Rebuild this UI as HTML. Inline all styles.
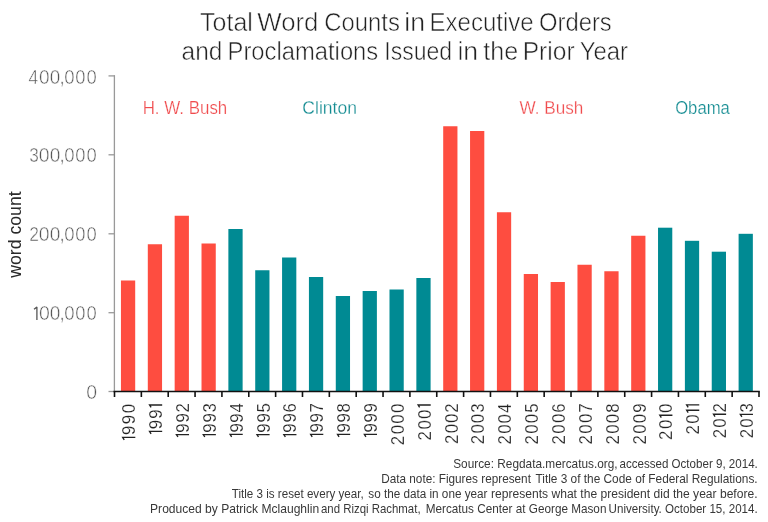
<!DOCTYPE html>
<html><head><meta charset="utf-8"><style>
html,body{margin:0;padding:0;background:#fff;width:768px;height:522px;overflow:hidden;}
svg{position:absolute;left:0;top:0;}
text{font-family:"Liberation Sans",sans-serif;white-space:pre;}
svg{will-change:transform} .ti{stroke:#fff;stroke-width:0.55px;} .yl{stroke:#fff;stroke-width:0.5px;} .yr{stroke:#fff;stroke-width:0.2px;} .pr{stroke:#fff;stroke-width:0.25px;}
</style></head><body>
<svg width="768" height="522" viewBox="0 0 768 522">
<line x1="114.4" y1="75.30000000000001" x2="114.4" y2="391" stroke="#999" stroke-width="1.3"/>
<line x1="108.5" y1="75.9" x2="114.9" y2="75.9" stroke="#999" stroke-width="1.3"/><line x1="108.5" y1="154.8" x2="114.9" y2="154.8" stroke="#999" stroke-width="1.3"/><line x1="108.5" y1="233.8" x2="114.9" y2="233.8" stroke="#999" stroke-width="1.3"/><line x1="108.5" y1="312.7" x2="114.9" y2="312.7" stroke="#999" stroke-width="1.3"/><line x1="108.5" y1="391.5" x2="114.9" y2="391.5" stroke="#999" stroke-width="1.3"/>
<rect x="120.95" y="280.5" width="14.25" height="110.50" fill="#fe4d40"/><rect x="147.80" y="244.25" width="14.25" height="146.75" fill="#fe4d40"/><rect x="174.66" y="215.75" width="14.25" height="175.25" fill="#fe4d40"/><rect x="201.51" y="243.5" width="14.25" height="147.50" fill="#fe4d40"/><rect x="228.37" y="229" width="14.25" height="162.00" fill="#008a93"/><rect x="255.22" y="270.25" width="14.25" height="120.75" fill="#008a93"/><rect x="282.07" y="257.5" width="14.25" height="133.50" fill="#008a93"/><rect x="308.93" y="277" width="14.25" height="114.00" fill="#008a93"/><rect x="335.78" y="296" width="14.25" height="95.00" fill="#008a93"/><rect x="362.64" y="291" width="14.25" height="100.00" fill="#008a93"/><rect x="389.49" y="289.5" width="14.25" height="101.50" fill="#008a93"/><rect x="416.35" y="278" width="14.25" height="113.00" fill="#008a93"/><rect x="443.20" y="126.25" width="14.25" height="264.75" fill="#fe4d40"/><rect x="470.05" y="131" width="14.25" height="260.00" fill="#fe4d40"/><rect x="496.91" y="212.25" width="14.25" height="178.75" fill="#fe4d40"/><rect x="523.76" y="274" width="14.25" height="117.00" fill="#fe4d40"/><rect x="550.62" y="282" width="14.25" height="109.00" fill="#fe4d40"/><rect x="577.47" y="264.75" width="14.25" height="126.25" fill="#fe4d40"/><rect x="604.33" y="271.25" width="14.25" height="119.75" fill="#fe4d40"/><rect x="631.18" y="235.75" width="14.25" height="155.25" fill="#fe4d40"/><rect x="658.03" y="227.7" width="14.25" height="163.30" fill="#008a93"/><rect x="684.89" y="240.8" width="14.25" height="150.20" fill="#008a93"/><rect x="711.74" y="251.7" width="14.25" height="139.30" fill="#008a93"/><rect x="738.60" y="233.8" width="14.25" height="157.20" fill="#008a93"/>
<line x1="113.5" y1="391.5" x2="759.80" y2="391.5" stroke="#111" stroke-width="1.7"/>
<line x1="114.50" y1="391.5" x2="114.50" y2="397" stroke="#111" stroke-width="1.6"/><line x1="141.35" y1="391.5" x2="141.35" y2="397" stroke="#111" stroke-width="1.6"/><line x1="168.21" y1="391.5" x2="168.21" y2="397" stroke="#111" stroke-width="1.6"/><line x1="195.06" y1="391.5" x2="195.06" y2="397" stroke="#111" stroke-width="1.6"/><line x1="221.92" y1="391.5" x2="221.92" y2="397" stroke="#111" stroke-width="1.6"/><line x1="248.77" y1="391.5" x2="248.77" y2="397" stroke="#111" stroke-width="1.6"/><line x1="275.62" y1="391.5" x2="275.62" y2="397" stroke="#111" stroke-width="1.6"/><line x1="302.48" y1="391.5" x2="302.48" y2="397" stroke="#111" stroke-width="1.6"/><line x1="329.33" y1="391.5" x2="329.33" y2="397" stroke="#111" stroke-width="1.6"/><line x1="356.19" y1="391.5" x2="356.19" y2="397" stroke="#111" stroke-width="1.6"/><line x1="383.04" y1="391.5" x2="383.04" y2="397" stroke="#111" stroke-width="1.6"/><line x1="409.90" y1="391.5" x2="409.90" y2="397" stroke="#111" stroke-width="1.6"/><line x1="436.75" y1="391.5" x2="436.75" y2="397" stroke="#111" stroke-width="1.6"/><line x1="463.60" y1="391.5" x2="463.60" y2="397" stroke="#111" stroke-width="1.6"/><line x1="490.46" y1="391.5" x2="490.46" y2="397" stroke="#111" stroke-width="1.6"/><line x1="517.31" y1="391.5" x2="517.31" y2="397" stroke="#111" stroke-width="1.6"/><line x1="544.17" y1="391.5" x2="544.17" y2="397" stroke="#111" stroke-width="1.6"/><line x1="571.02" y1="391.5" x2="571.02" y2="397" stroke="#111" stroke-width="1.6"/><line x1="597.88" y1="391.5" x2="597.88" y2="397" stroke="#111" stroke-width="1.6"/><line x1="624.73" y1="391.5" x2="624.73" y2="397" stroke="#111" stroke-width="1.6"/><line x1="651.58" y1="391.5" x2="651.58" y2="397" stroke="#111" stroke-width="1.6"/><line x1="678.44" y1="391.5" x2="678.44" y2="397" stroke="#111" stroke-width="1.6"/><line x1="705.29" y1="391.5" x2="705.29" y2="397" stroke="#111" stroke-width="1.6"/><line x1="732.15" y1="391.5" x2="732.15" y2="397" stroke="#111" stroke-width="1.6"/><line x1="759.00" y1="391.5" x2="759.00" y2="397" stroke="#111" stroke-width="1.6"/>
<text class="ti" transform="translate(200.118,30.600) scale(0.9638,1)" font-size="25.9" fill="#222">Total</text>
<text class="ti" transform="translate(257.251,30.600) scale(0.9966,1)" font-size="25.9" fill="#222">Word</text>
<text class="ti" transform="translate(324.248,30.600) scale(0.9216,1)" font-size="25.9" fill="#222">Counts</text>
<text class="ti" transform="translate(404.193,30.600) scale(1.0328,1)" font-size="25.9" fill="#222">in</text>
<text class="ti" transform="translate(429.544,30.600) scale(0.9281,1)" font-size="25.9" fill="#222">Executive</text>
<text class="ti" transform="translate(538.949,30.600) scale(0.9208,1)" font-size="25.9" fill="#222">Orders</text>
<text class="ti" transform="translate(181.554,60.000) scale(0.9457,1)" font-size="25.9" fill="#222">and</text>
<text class="ti" transform="translate(227.563,60.000) scale(0.9184,1)" font-size="25.9" fill="#222">Proclamations</text>
<text class="ti" transform="translate(384.304,60.000) scale(0.8872,1)" font-size="25.9" fill="#222">Issued</text>
<text class="ti" transform="translate(457.393,60.000) scale(1.0328,1)" font-size="25.9" fill="#222">in</text>
<text class="ti" transform="translate(483.258,60.000) scale(0.9681,1)" font-size="25.9" fill="#222">the</text>
<text class="ti" transform="translate(522.701,60.000) scale(0.9493,1)" font-size="25.9" fill="#222">Prior</text>
<text class="ti" transform="translate(579.706,60.000) scale(0.9249,1)" font-size="25.9" fill="#222">Year</text>
<text class="pr" transform="translate(142.647,113.700) scale(0.9022,1)" font-size="18.76" fill="#f04c4e">H. W. Bush</text>
<text class="pr" transform="translate(302.365,113.600) scale(0.9351,1)" font-size="18.76" fill="#128b91">Clinton</text>
<text class="pr" transform="translate(519.471,113.600) scale(0.9143,1)" font-size="18.76" fill="#f04c4e">W. Bush</text>
<text class="pr" transform="translate(675.132,113.600) scale(0.8905,1)" font-size="18.76" fill="#128b91">Obama</text>
<text class="ft" transform="translate(453.210,468.250) scale(0.9199,1)" font-size="12.87" fill="#383838">Source: Regdata.mercatus.org,</text>
<text class="ft" transform="translate(619.450,468.250) scale(0.9003,1)" font-size="12.87" fill="#383838">accessed October 9, 2014.</text>
<text class="ft" transform="translate(381.186,482.900) scale(0.9143,1)" font-size="12.87" fill="#383838">Data note: Figures represent</text>
<text class="ft" transform="translate(535.469,482.900) scale(0.9220,1)" font-size="12.87" fill="#383838">Title 3 of the Code of Federal Regulations.</text>
<text class="ft" transform="translate(231.774,497.800) scale(0.9043,1)" font-size="12.87" fill="#383838">Title 3 is reset every year,</text>
<text class="ft" transform="translate(368.295,497.800) scale(0.9109,1)" font-size="12.87" fill="#383838">so the data in one year</text>
<text class="ft" transform="translate(491.045,497.800) scale(0.9397,1)" font-size="12.87" fill="#383838">represents what the president did the year before.</text>
<text class="ft" transform="translate(150.061,512.700) scale(0.9391,1)" font-size="12.87" fill="#383838">Produced by Patrick Mclaughlin</text>
<text class="ft" transform="translate(320.956,512.700) scale(0.8878,1)" font-size="12.87" fill="#383838">and Rizqi Rachmat,</text>
<text class="ft" transform="translate(425.687,512.700) scale(0.9129,1)" font-size="12.87" fill="#383838">Mercatus Center at George Mason</text>
<text class="ft" transform="translate(608.599,512.700) scale(0.9006,1)" font-size="12.87" fill="#383838">University. October 15, 2014.</text>
<text class="yl" transform="translate(28.449,83.500) scale(0.9026,1)" font-size="19.36" fill="#555">4</text>
<text class="yl" transform="translate(39.062,83.500) scale(0.9838,1)" font-size="19.36" fill="#555">0</text>
<text class="yl" transform="translate(49.670,83.500) scale(0.9730,1)" font-size="19.36" fill="#555">0</text>
<text class="yl" transform="translate(59.363,83.500) scale(1.0500,1)" font-size="19.36" fill="#555">,</text>
<text class="yl" transform="translate(64.278,83.500) scale(0.9622,1)" font-size="19.36" fill="#555">0</text>
<text class="yl" transform="translate(75.286,83.500) scale(0.9514,1)" font-size="19.36" fill="#555">0</text>
<text class="yl" transform="translate(86.486,83.500) scale(0.9514,1)" font-size="19.36" fill="#555">0</text>
<text class="yl" transform="translate(29.135,162.300) scale(0.8865,1)" font-size="19.36" fill="#555">3</text>
<text class="yl" transform="translate(38.846,162.300) scale(1.0054,1)" font-size="19.36" fill="#555">0</text>
<text class="yl" transform="translate(49.762,162.300) scale(0.9838,1)" font-size="19.36" fill="#555">0</text>
<text class="yl" transform="translate(59.363,162.300) scale(1.0500,1)" font-size="19.36" fill="#555">,</text>
<text class="yl" transform="translate(64.278,162.300) scale(0.9622,1)" font-size="19.36" fill="#555">0</text>
<text class="yl" transform="translate(75.286,162.300) scale(0.9514,1)" font-size="19.36" fill="#555">0</text>
<text class="yl" transform="translate(86.486,162.300) scale(0.9514,1)" font-size="19.36" fill="#555">0</text>
<text class="yl" transform="translate(29.197,241.000) scale(0.9029,1)" font-size="19.36" fill="#555">2</text>
<text class="yl" transform="translate(38.846,241.000) scale(1.0054,1)" font-size="19.36" fill="#555">0</text>
<text class="yl" transform="translate(49.762,241.000) scale(0.9838,1)" font-size="19.36" fill="#555">0</text>
<text class="yl" transform="translate(59.363,241.000) scale(1.0500,1)" font-size="19.36" fill="#555">,</text>
<text class="yl" transform="translate(64.278,241.000) scale(0.9622,1)" font-size="19.36" fill="#555">0</text>
<text class="yl" transform="translate(75.286,241.000) scale(0.9514,1)" font-size="19.36" fill="#555">0</text>
<text class="yl" transform="translate(86.486,241.000) scale(0.9514,1)" font-size="19.36" fill="#555">0</text>
<text class="yl" transform="translate(38.946,319.900) scale(1.0054,1)" font-size="19.36" fill="#555">0</text>
<text class="yl" transform="translate(49.762,319.900) scale(0.9838,1)" font-size="19.36" fill="#555">0</text>
<text class="yl" transform="translate(59.363,319.900) scale(1.0500,1)" font-size="19.36" fill="#555">,</text>
<text class="yl" transform="translate(64.278,319.900) scale(0.9622,1)" font-size="19.36" fill="#555">0</text>
<text class="yl" transform="translate(75.286,319.900) scale(0.9514,1)" font-size="19.36" fill="#555">0</text>
<text class="yl" transform="translate(86.486,319.900) scale(0.9514,1)" font-size="19.36" fill="#555">0</text>
<text class="yl" transform="translate(86.146,398.800) scale(1.0054,1)" font-size="19.36" fill="#555">0</text>
<text class="wc" transform="translate(21.200,277.800) rotate(-90) scale(0.9458,1)" font-size="18.7" fill="#2a2a2a">word count</text>
<g transform="translate(135.327,440.000) rotate(-90)"><path d="M2.60,0 V-12.60 L0.20,-11.10" fill="none" stroke="#222" stroke-width="1.35" stroke-linejoin="miter"/><text class="yr" transform="translate(4.889,0) scale(0.88,1)" font-size="19.08" fill="#222">9</text><text class="yr" transform="translate(15.782,0) scale(0.88,1)" font-size="19.08" fill="#222">9</text><text class="yr" transform="translate(26.675,0) scale(0.88,1)" font-size="19.08" fill="#222">0</text></g>
<g transform="translate(162.181,434.000) rotate(-90)"><path d="M2.60,0 V-12.60 L0.20,-11.10" fill="none" stroke="#222" stroke-width="1.35" stroke-linejoin="miter"/><text class="yr" transform="translate(4.704,0) scale(0.88,1)" font-size="19.08" fill="#222">9</text><text class="yr" transform="translate(15.233,0) scale(0.88,1)" font-size="19.08" fill="#222">9</text><path d="M29.02,0 V-12.60 L26.62,-11.10" fill="none" stroke="#222" stroke-width="1.35" stroke-linejoin="miter"/></g>
<g transform="translate(189.035,437.200) rotate(-90)"><path d="M2.60,0 V-12.60 L0.20,-11.10" fill="none" stroke="#222" stroke-width="1.35" stroke-linejoin="miter"/><text class="yr" transform="translate(4.520,0) scale(0.88,1)" font-size="19.08" fill="#222">9</text><text class="yr" transform="translate(14.687,0) scale(0.88,1)" font-size="19.08" fill="#222">9</text><text class="yr" transform="translate(24.634,0) scale(0.88,1)" font-size="19.08" fill="#222">2</text></g>
<g transform="translate(215.890,437.200) rotate(-90)"><path d="M2.60,0 V-12.60 L0.20,-11.10" fill="none" stroke="#222" stroke-width="1.35" stroke-linejoin="miter"/><text class="yr" transform="translate(4.487,0) scale(0.88,1)" font-size="19.08" fill="#222">9</text><text class="yr" transform="translate(14.589,0) scale(0.88,1)" font-size="19.08" fill="#222">9</text><text class="yr" transform="translate(24.692,0) scale(0.88,1)" font-size="19.08" fill="#222">3</text></g>
<g transform="translate(242.744,437.000) rotate(-90)"><path d="M2.60,0 V-12.60 L0.20,-11.10" fill="none" stroke="#222" stroke-width="1.35" stroke-linejoin="miter"/><text class="yr" transform="translate(4.391,0) scale(0.88,1)" font-size="19.08" fill="#222">9</text><text class="yr" transform="translate(14.306,0) scale(0.88,1)" font-size="19.08" fill="#222">9</text><text class="yr" transform="translate(24.440,0) scale(0.88,1)" font-size="19.08" fill="#222">4</text></g>
<g transform="translate(269.598,437.200) rotate(-90)"><path d="M2.60,0 V-12.60 L0.20,-11.10" fill="none" stroke="#222" stroke-width="1.35" stroke-linejoin="miter"/><text class="yr" transform="translate(4.487,0) scale(0.88,1)" font-size="19.08" fill="#222">9</text><text class="yr" transform="translate(14.589,0) scale(0.88,1)" font-size="19.08" fill="#222">9</text><text class="yr" transform="translate(24.692,0) scale(0.88,1)" font-size="19.08" fill="#222">5</text></g>
<g transform="translate(296.452,437.200) rotate(-90)"><path d="M2.60,0 V-12.60 L0.20,-11.10" fill="none" stroke="#222" stroke-width="1.35" stroke-linejoin="miter"/><text class="yr" transform="translate(4.520,0) scale(0.88,1)" font-size="19.08" fill="#222">9</text><text class="yr" transform="translate(14.687,0) scale(0.88,1)" font-size="19.08" fill="#222">9</text><text class="yr" transform="translate(24.634,0) scale(0.88,1)" font-size="19.08" fill="#222">6</text></g>
<g transform="translate(323.306,437.000) rotate(-90)"><path d="M2.60,0 V-12.60 L0.20,-11.10" fill="none" stroke="#222" stroke-width="1.35" stroke-linejoin="miter"/><text class="yr" transform="translate(4.488,0) scale(0.88,1)" font-size="19.08" fill="#222">9</text><text class="yr" transform="translate(14.594,0) scale(0.88,1)" font-size="19.08" fill="#222">9</text><text class="yr" transform="translate(24.479,0) scale(0.88,1)" font-size="19.08" fill="#222">7</text></g>
<g transform="translate(350.160,437.000) rotate(-90)"><path d="M2.60,0 V-12.60 L0.20,-11.10" fill="none" stroke="#222" stroke-width="1.35" stroke-linejoin="miter"/><text class="yr" transform="translate(4.455,0) scale(0.88,1)" font-size="19.08" fill="#222">9</text><text class="yr" transform="translate(14.496,0) scale(0.88,1)" font-size="19.08" fill="#222">9</text><text class="yr" transform="translate(24.538,0) scale(0.88,1)" font-size="19.08" fill="#222">8</text></g>
<g transform="translate(377.015,437.000) rotate(-90)"><path d="M2.60,0 V-12.60 L0.20,-11.10" fill="none" stroke="#222" stroke-width="1.35" stroke-linejoin="miter"/><text class="yr" transform="translate(4.455,0) scale(0.88,1)" font-size="19.08" fill="#222">9</text><text class="yr" transform="translate(14.496,0) scale(0.88,1)" font-size="19.08" fill="#222">9</text><text class="yr" transform="translate(24.538,0) scale(0.88,1)" font-size="19.08" fill="#222">9</text></g>
<g transform="translate(403.869,444.300) rotate(-90)"><text class="yr" transform="translate(-0.880,0) scale(0.88,1)" font-size="19.08" fill="#222">2</text><text class="yr" transform="translate(9.956,0) scale(0.88,1)" font-size="19.08" fill="#222">0</text><text class="yr" transform="translate(20.572,0) scale(0.88,1)" font-size="19.08" fill="#222">0</text><text class="yr" transform="translate(31.188,0) scale(0.88,1)" font-size="19.08" fill="#222">0</text></g>
<g transform="translate(430.723,439.500) rotate(-90)"><text class="yr" transform="translate(-0.880,0) scale(0.88,1)" font-size="19.08" fill="#222">2</text><text class="yr" transform="translate(9.970,0) scale(0.88,1)" font-size="19.08" fill="#222">0</text><text class="yr" transform="translate(20.600,0) scale(0.88,1)" font-size="19.08" fill="#222">0</text><path d="M34.49,0 V-12.60 L32.09,-11.10" fill="none" stroke="#222" stroke-width="1.35" stroke-linejoin="miter"/></g>
<g transform="translate(457.577,443.000) rotate(-90)"><text class="yr" transform="translate(-0.880,0) scale(0.88,1)" font-size="19.08" fill="#222">2</text><text class="yr" transform="translate(9.725,0) scale(0.88,1)" font-size="19.08" fill="#222">0</text><text class="yr" transform="translate(20.111,0) scale(0.88,1)" font-size="19.08" fill="#222">0</text><text class="yr" transform="translate(30.276,0) scale(0.88,1)" font-size="19.08" fill="#222">2</text></g>
<g transform="translate(484.431,443.300) rotate(-90)"><text class="yr" transform="translate(-0.880,0) scale(0.88,1)" font-size="19.08" fill="#222">2</text><text class="yr" transform="translate(9.748,0) scale(0.88,1)" font-size="19.08" fill="#222">0</text><text class="yr" transform="translate(20.156,0) scale(0.88,1)" font-size="19.08" fill="#222">0</text><text class="yr" transform="translate(30.564,0) scale(0.88,1)" font-size="19.08" fill="#222">3</text></g>
<g transform="translate(511.285,443.500) rotate(-90)"><text class="yr" transform="translate(-0.880,0) scale(0.88,1)" font-size="19.08" fill="#222">2</text><text class="yr" transform="translate(9.687,0) scale(0.88,1)" font-size="19.08" fill="#222">0</text><text class="yr" transform="translate(20.033,0) scale(0.88,1)" font-size="19.08" fill="#222">0</text><text class="yr" transform="translate(30.600,0) scale(0.88,1)" font-size="19.08" fill="#222">4</text></g>
<g transform="translate(538.140,443.500) rotate(-90)"><text class="yr" transform="translate(-0.880,0) scale(0.88,1)" font-size="19.08" fill="#222">2</text><text class="yr" transform="translate(9.801,0) scale(0.88,1)" font-size="19.08" fill="#222">0</text><text class="yr" transform="translate(20.262,0) scale(0.88,1)" font-size="19.08" fill="#222">0</text><text class="yr" transform="translate(30.724,0) scale(0.88,1)" font-size="19.08" fill="#222">5</text></g>
<g transform="translate(564.994,443.500) rotate(-90)"><text class="yr" transform="translate(-0.880,0) scale(0.88,1)" font-size="19.08" fill="#222">2</text><text class="yr" transform="translate(9.859,0) scale(0.88,1)" font-size="19.08" fill="#222">0</text><text class="yr" transform="translate(20.379,0) scale(0.88,1)" font-size="19.08" fill="#222">0</text><text class="yr" transform="translate(30.678,0) scale(0.88,1)" font-size="19.08" fill="#222">6</text></g>
<g transform="translate(591.848,443.500) rotate(-90)"><text class="yr" transform="translate(-0.880,0) scale(0.88,1)" font-size="19.08" fill="#222">2</text><text class="yr" transform="translate(9.859,0) scale(0.88,1)" font-size="19.08" fill="#222">0</text><text class="yr" transform="translate(20.379,0) scale(0.88,1)" font-size="19.08" fill="#222">0</text><text class="yr" transform="translate(30.678,0) scale(0.88,1)" font-size="19.08" fill="#222">7</text></g>
<g transform="translate(618.702,443.500) rotate(-90)"><text class="yr" transform="translate(-0.880,0) scale(0.88,1)" font-size="19.08" fill="#222">2</text><text class="yr" transform="translate(9.801,0) scale(0.88,1)" font-size="19.08" fill="#222">0</text><text class="yr" transform="translate(20.262,0) scale(0.88,1)" font-size="19.08" fill="#222">0</text><text class="yr" transform="translate(30.724,0) scale(0.88,1)" font-size="19.08" fill="#222">8</text></g>
<g transform="translate(645.556,443.500) rotate(-90)"><text class="yr" transform="translate(-0.880,0) scale(0.88,1)" font-size="19.08" fill="#222">2</text><text class="yr" transform="translate(9.801,0) scale(0.88,1)" font-size="19.08" fill="#222">0</text><text class="yr" transform="translate(20.262,0) scale(0.88,1)" font-size="19.08" fill="#222">0</text><text class="yr" transform="translate(30.724,0) scale(0.88,1)" font-size="19.08" fill="#222">9</text></g>
<g transform="translate(672.410,439.000) rotate(-90)"><text class="yr" transform="translate(-0.880,0) scale(0.88,1)" font-size="19.08" fill="#222">2</text><text class="yr" transform="translate(9.928,0) scale(0.88,1)" font-size="19.08" fill="#222">0</text><path d="M23.78,0 V-12.60 L21.38,-11.10" fill="none" stroke="#222" stroke-width="1.35" stroke-linejoin="miter"/><text class="yr" transform="translate(25.909,0) scale(0.88,1)" font-size="19.08" fill="#222">0</text></g>
<g transform="translate(699.265,433.500) rotate(-90)"><text class="yr" transform="translate(-0.880,0) scale(0.88,1)" font-size="19.08" fill="#222">2</text><text class="yr" transform="translate(9.692,0) scale(0.88,1)" font-size="19.08" fill="#222">0</text><path d="M23.30,0 V-12.60 L20.90,-11.10" fill="none" stroke="#222" stroke-width="1.35" stroke-linejoin="miter"/><path d="M28.58,0 V-12.60 L26.18,-11.10" fill="none" stroke="#222" stroke-width="1.35" stroke-linejoin="miter"/></g>
<g transform="translate(726.119,437.300) rotate(-90)"><text class="yr" transform="translate(-0.880,0) scale(0.88,1)" font-size="19.08" fill="#222">2</text><text class="yr" transform="translate(9.538,0) scale(0.88,1)" font-size="19.08" fill="#222">0</text><path d="M23.00,0 V-12.60 L20.60,-11.10" fill="none" stroke="#222" stroke-width="1.35" stroke-linejoin="miter"/><text class="yr" transform="translate(24.712,0) scale(0.88,1)" font-size="19.08" fill="#222">2</text></g>
<g transform="translate(752.973,437.300) rotate(-90)"><text class="yr" transform="translate(-0.880,0) scale(0.88,1)" font-size="19.08" fill="#222">2</text><text class="yr" transform="translate(9.473,0) scale(0.88,1)" font-size="19.08" fill="#222">0</text><path d="M22.87,0 V-12.60 L20.47,-11.10" fill="none" stroke="#222" stroke-width="1.35" stroke-linejoin="miter"/><text class="yr" transform="translate(24.769,0) scale(0.88,1)" font-size="19.08" fill="#222">3</text></g>
<path d="M36.9,320 V307.1 L34.0,309.2" fill="none" stroke="#555" stroke-width="1.3" stroke-linejoin="bevel"/>
</svg>
</body></html>
